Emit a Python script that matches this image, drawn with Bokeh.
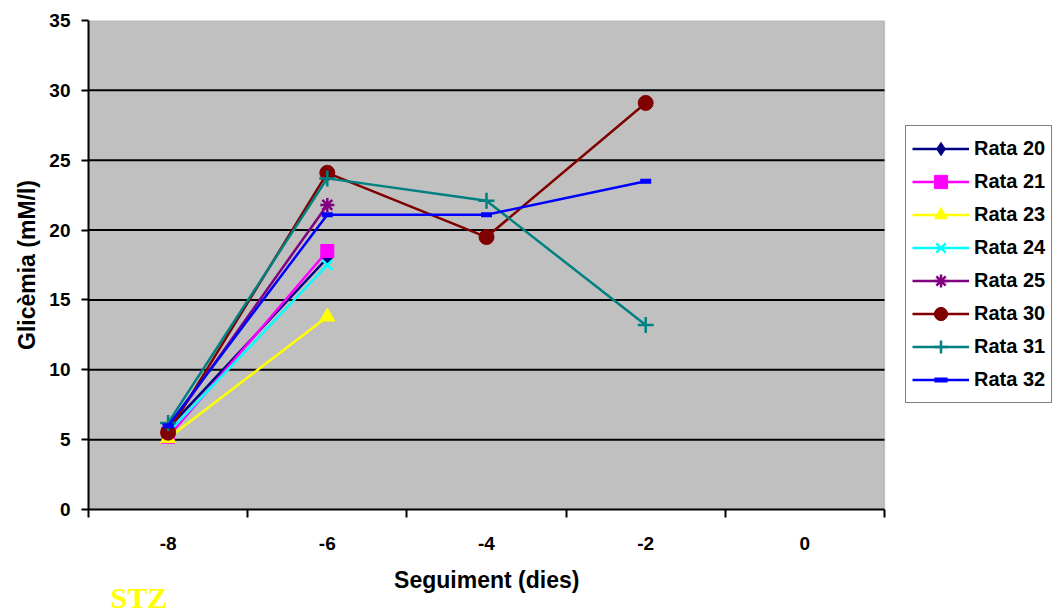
from bokeh.plotting import figure
from bokeh.models import (FixedTicker, Legend, LegendItem, Title, Range1d, BoxAnnotation,
                          CustomJSTickFormatter)
from bokeh.embed import file_html
from bokeh.resources import INLINE

# ---- data ----
x_labels = [-8, -6, -4, -2, 0]
x_bounds = [-9, 1]
y_ticks = [0, 5, 10, 15, 20, 25, 30, 35]
y_grid = [5, 10, 15, 20, 25, 30]
rata20_x = [-8, -6]
rata20_y = [5.8, 18.0]
rata21_x = [-8, -6]
rata21_y = [5.2, 18.5]
rata23_x = [-8, -6]
rata23_y = [5.1, 13.8]
rata24_x = [-8, -6]
rata24_y = [5.5, 17.5]
rata25_x = [-8, -6]
rata25_y = [5.8, 21.8]
rata30_x = [-8, -6, -4, -2]
rata30_y = [5.5, 24.1, 19.5, 29.1]
rata31_x = [-8, -6, -4, -2]
rata31_y = [6.2, 23.7, 22.1, 13.2]
rata32_x = [-8, -6, -4, -2]
rata32_y = [6.0, 21.1, 21.1, 23.5]

series = [
    ("Rata 20", rata20_x, rata20_y, "#000080", "diamond", 15),
    ("Rata 21", rata21_x, rata21_y, "#ff00ff", "square", 13),
    ("Rata 23", rata23_x, rata23_y, "#ffff00", "triangle", 15),
    ("Rata 24", rata24_x, rata24_y, "#00ffff", "x", 14),
    ("Rata 25", rata25_x, rata25_y, "#800080", "asterisk", 14),
    ("Rata 30", rata30_x, rata30_y, "#800000", "circle", 15),
    ("Rata 31", rata31_x, rata31_y, "#008080", "cross", 16),
    ("Rata 32", rata32_x, rata32_y, "#0000ff", "dash", 11),
]

FONT = "Liberation Sans"
W, H = 1057, 614
LEFT, TOP, BOTTOM = 88, 20, 105
PLOT_W = 796  # pixel width of the grey plot area
x_end = x_bounds[0] + (x_bounds[1] - x_bounds[0]) * (W - LEFT) / PLOT_W

p = figure(width=W, height=H, output_backend="svg", toolbar_location=None,
           x_range=Range1d(x_bounds[0], x_end), y_range=Range1d(0, 35),
           min_border_left=LEFT, min_border_right=0, min_border_top=TOP, min_border_bottom=BOTTOM)
p.border_fill_color = "#ffffff"
p.background_fill_color = "#ffffff"
p.outline_line_color = None

# grey plot area
p.add_layout(BoxAnnotation(left=x_bounds[0], right=x_bounds[1], bottom=0, top=35,
                           fill_color="#c0c0c0", fill_alpha=1.0,
                           line_color="#808080", line_width=1.5, level="underlay"))

p.xgrid.visible = False
p.ygrid.visible = False
p.segment(x0=[x_bounds[0]] * len(y_grid), x1=[x_bounds[1]] * len(y_grid), y0=y_grid, y1=y_grid,
          line_color="black", line_width=2)

fmt = CustomJSTickFormatter(code="return tick.toString();")

# axes
p.xaxis.bounds = (x_bounds[0], x_bounds[1])
p.xaxis.ticker = FixedTicker(ticks=x_labels, minor_ticks=[-9, -7, -5, -3, -1, 1])
p.xaxis.formatter = fmt
p.xaxis.major_tick_line_color = None
p.xaxis.major_tick_out = 6
p.xaxis.minor_tick_line_color = "black"
p.xaxis.minor_tick_line_width = 2
p.xaxis.minor_tick_out = 8
p.xaxis.minor_tick_in = 0
p.xaxis.major_label_standoff = 19
p.xaxis.axis_line_color = "black"
p.xaxis.axis_line_width = 2
# trailing no-break spaces shift the centred title to the middle of the grey plot area
p.xaxis.axis_label = "Seguiment (dies)" + "\u00a0" * 27
p.xaxis.axis_label_standoff = 14

p.yaxis.ticker = FixedTicker(ticks=y_ticks)
p.yaxis.formatter = fmt
p.yaxis.minor_tick_line_color = None
p.yaxis.major_tick_line_color = "black"
p.yaxis.major_tick_line_width = 2
p.yaxis.major_tick_out = 7
p.yaxis.major_tick_in = 0
p.yaxis.major_label_standoff = 11
p.yaxis.axis_line_color = "black"
p.yaxis.axis_line_width = 2
p.yaxis.axis_label = "Glicèmia (mM/l)"
p.yaxis.axis_label_standoff = 6

for ax in (p.xaxis[0], p.yaxis[0]):
    ax.major_label_text_font = FONT
    ax.major_label_text_font_style = "bold"
    ax.major_label_text_font_size = "19px"
    ax.major_label_text_color = "black"
    ax.axis_label_text_font = FONT
    ax.axis_label_text_font_style = "bold"
    ax.axis_label_text_font_size = "23px"
    ax.axis_label_text_color = "black"

items = []
for name, xs, ys, color, marker, size in series:
    r1 = p.line(xs, ys, line_color=color, line_width=2.5)
    if marker == "dash":
        r2 = p.scatter(xs, ys, marker="dash", size=size, line_color=color, line_width=5)
    elif marker in ("x", "asterisk", "cross"):
        r2 = p.scatter(xs, ys, marker=marker, size=size, line_color=color, line_width=2.5)
    else:
        r2 = p.scatter(xs, ys, marker=marker, size=size, fill_color=color, line_color=color)
    items.append(LegendItem(label=name, renderers=[r1, r2]))

legend = Legend(items=items, location=(817, 106))
legend.label_text_font = FONT
legend.label_text_font_style = "bold"
legend.label_text_font_size = "20px"
legend.label_text_color = "black"
legend.border_line_color = "black"
legend.border_line_width = 1.5
legend.background_fill_color = "white"
legend.background_fill_alpha = 1
legend.glyph_width = 57
legend.glyph_height = 33
legend.label_height = 33
legend.spacing = 0
legend.padding = 6
legend.margin = 0
legend.label_standoff = 5
p.add_layout(legend, "center")

stz = Title(text="STZ", align="left", offset=22, standoff=-34,
            text_font="Liberation Serif", text_font_style="bold", text_font_size="30px",
            text_color="#ffff00")
p.add_layout(stz, "below")

open("out.html", "w").write(file_html(p, INLINE))
